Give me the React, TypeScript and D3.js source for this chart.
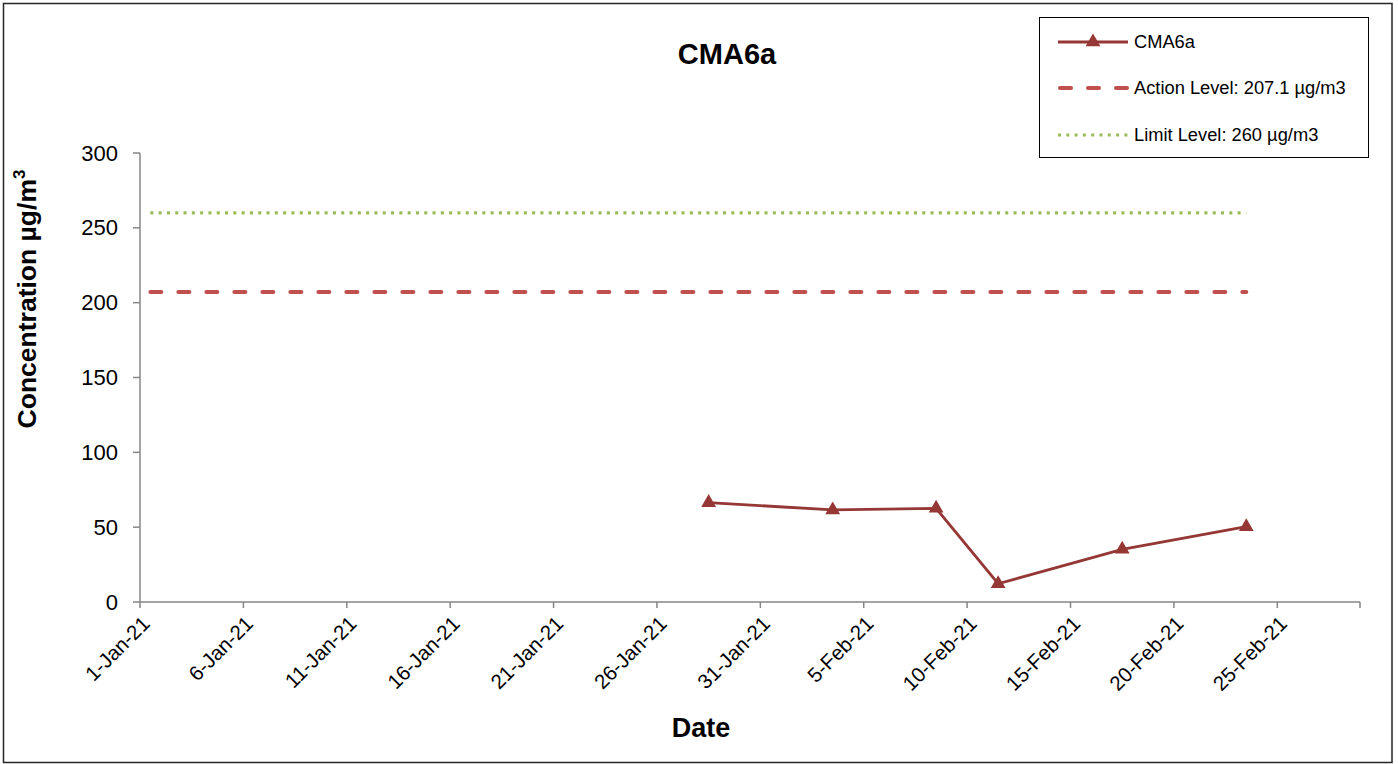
import React from 'react';
import * as d3 from 'd3';

// ---- data ----
const sampleDates: string[] = ['2021-01-28', '2021-02-03', '2021-02-08', '2021-02-11', '2021-02-17', '2021-02-23'];
const sampleValues: number[] = [66.4, 61.5, 62.6, 12.2, 35.2, 50.3];
const levelDates: string[] = ['2021-01-01', '2021-02-23'];
const actionLevel = 207.1;
const limitLevel = 260;
const yTicks: number[] = [0, 50, 100, 150, 200, 250, 300];
const xDomainDates: string[] = ['2021-01-01', '2021-03-01'];
const seriesNames: string[] = ['CMA6a', 'Action Level: 207.1 µg/m3', 'Limit Level: 260 µg/m3'];

const W = 1398;
const H = 764;
const M = { left: 140, right: 1360, top: 153, bottom: 602 };
const FONT = '"Liberation Sans", Arial, Helvetica, sans-serif';

const C_DATA = '#953735';
const C_ACTION = '#C0504D';
const C_LIMIT = '#9BBB59';
const C_AXIS = '#868686';

export default function App() {
  const parse = d3.timeParse('%Y-%m-%d');
  const fmt = d3.timeFormat('%-d-%b-%y');
  const mid = (s: string) => d3.timeHour.offset(parse(s) as Date, 12);

  const x = d3
    .scaleTime()
    .domain(xDomainDates.map((s) => parse(s) as Date))
    .range([M.left, M.right]);
  const y = d3.scaleLinear().domain([0, 300]).range([M.bottom, M.top]);

  const xTicks = d3.timeDay.range(parse(xDomainDates[0]) as Date, parse(xDomainDates[1]) as Date, 5);

  const pts = sampleDates.map((d, i) => ({ d: mid(d), v: sampleValues[i] }));
  const line = d3
    .line<{ d: Date; v: number }>()
    .x((p) => x(p.d))
    .y((p) => y(p.v));

  const tri = d3.symbol(d3.symbolTriangle, 95)() as string;

  const levelLine = (v: number) =>
    line(levelDates.map((d) => ({ d: mid(d), v })));

  const legendX = 1039;
  const legendY = 17;
  const rowY = [42, 88, 135];

  return (
    <svg
      width={W}
      height={H}
      style={{ position: 'absolute', left: 0, top: 0, background: '#fff' }}
      fontFamily={FONT}
    >
      <rect x={0} y={0} width={W} height={H} fill="#fff" />
      <rect x={3.5} y={3.5} width={1388.5} height={759} fill="none" stroke="#262626" strokeWidth={1.5} />

      {/* title */}
      <text x={727} y={64} textAnchor="middle" fontSize={29} fontWeight="bold" fill="#000">
        CMA6a
      </text>

      {/* y axis */}
      <line x1={M.left} x2={M.left} y1={M.top} y2={M.bottom} stroke={C_AXIS} strokeWidth={1.5} />
      {yTicks.map((t) => (
        <g key={t}>
          <line x1={M.left - 7} x2={M.left} y1={y(t)} y2={y(t)} stroke={C_AXIS} strokeWidth={1.5} />
          <text x={118} y={y(t) + 7.5} textAnchor="end" fontSize={22} fill="#000">
            {t}
          </text>
        </g>
      ))}
      <text
        transform={`translate(36, 299) rotate(-90)`}
        textAnchor="middle"
        fontSize={26.5}
        fontWeight="bold"
        fill="#000"
      >
        Concentration µg/m<tspan dy={-11} fontSize={17}>3</tspan>
      </text>

      {/* x axis */}
      <line x1={M.left} x2={M.right} y1={M.bottom} y2={M.bottom} stroke={C_AXIS} strokeWidth={1.5} />
      {[...xTicks, parse(xDomainDates[1]) as Date].map((t, i) => (
        <line key={i} x1={x(t)} x2={x(t)} y1={M.bottom} y2={M.bottom + 6} stroke={C_AXIS} strokeWidth={1.5} />
      ))}
      {xTicks.map((t, i) => (
        <text
          key={i}
          transform={`translate(${x(t) + 11}, ${M.bottom + 23}) rotate(-45)`}
          textAnchor="end"
          fontSize={20.5}
          fill="#000"
        >
          {fmt(t)}
        </text>
      ))}
      <text x={701} y={737} textAnchor="middle" fontSize={27} fontWeight="bold" fill="#000">
        Date
      </text>

      {/* level lines */}
      <path
        d={levelLine(limitLevel) as string}
        stroke={C_LIMIT}
        strokeWidth={3.2}
        strokeDasharray="3 5.3"
        fill="none"
      />
      <path
        d={levelLine(actionLevel) as string}
        stroke={C_ACTION}
        strokeWidth={4}
        strokeDasharray="11 17"
        strokeLinecap="round"
        fill="none"
      />

      {/* data */}
      <path d={line(pts) as string} stroke={C_DATA} strokeWidth={2.8} fill="none" />
      {pts.map((p, i) => (
        <path key={i} d={tri} transform={`translate(${x(p.d)}, ${y(p.v)})`} fill={C_DATA} />
      ))}

      {/* legend */}
      <rect x={legendX + 0.5} y={legendY + 0.5} width={329} height={140} fill="#fff" stroke="#000" strokeWidth={1} />
      <line x1={1058} x2={1128} y1={rowY[0]} y2={rowY[0]} stroke={C_DATA} strokeWidth={2.8} />
      <path d={tri} transform={`translate(1093, ${rowY[0]})`} fill={C_DATA} />
      <line
        x1={1060}
        x2={1127}
        y1={rowY[1]}
        y2={rowY[1]}
        stroke={C_ACTION}
        strokeWidth={4}
        strokeDasharray="11 17"
        strokeLinecap="round"
      />
      <line
        x1={1058}
        x2={1128}
        y1={rowY[2]}
        y2={rowY[2]}
        stroke={C_LIMIT}
        strokeWidth={3.2}
        strokeDasharray="3 5.3"
      />
      {seriesNames.map((n, i) => (
        <text key={n} x={1134} y={rowY[i] + 6} fontSize={18.3} fill="#000">
          {n}
        </text>
      ))}
    </svg>
  );
}
